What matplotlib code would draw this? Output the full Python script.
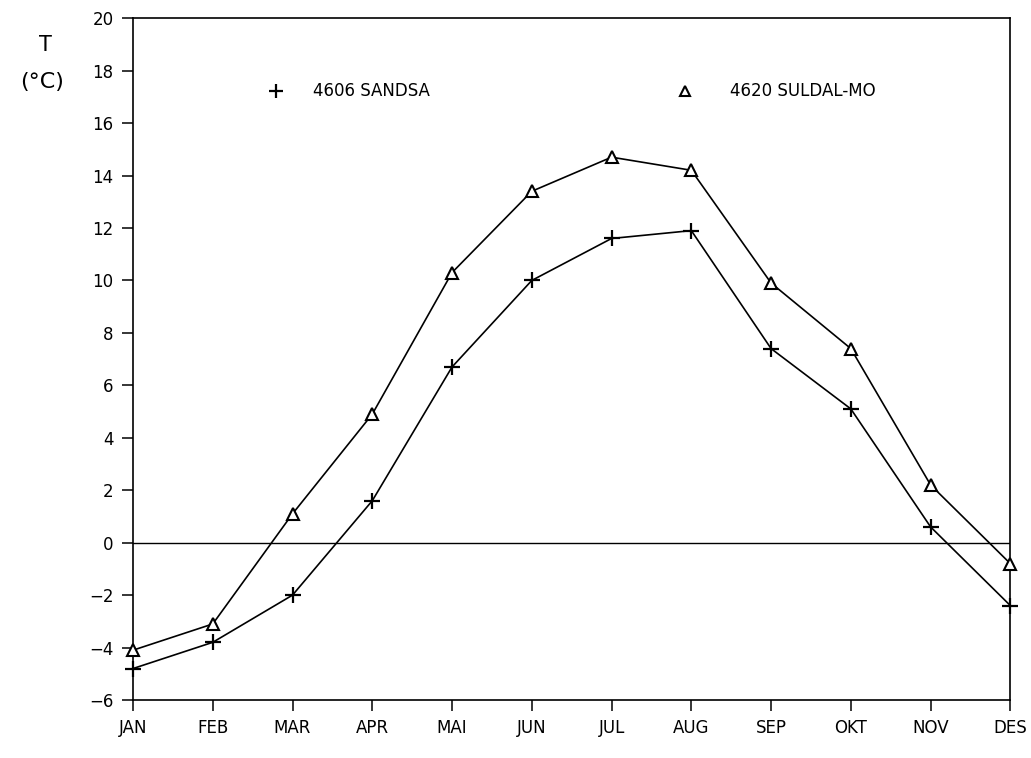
import matplotlib.pyplot as plt

months = ['JAN', 'FEB', 'MAR', 'APR', 'MAI', 'JUN', 'JUL', 'AUG', 'SEP', 'OKT', 'NOV', 'DES']
sandsa = [-4.8, -3.8, -2.0, 1.6, 6.7, 10.0, 11.6, 11.9, 7.4, 5.1, 0.6, -2.4]   # 4606 SANDSA
suldal = [-4.1, -3.1, 1.1, 4.9, 10.3, 13.4, 14.7, 14.2, 9.9, 7.4, 2.2, -0.8]   # 4620 SULDAL-MO
yticks = list(range(-6, 21, 2))

plt.rcParams['font.family'] = ['DejaVu Sans']
fig = plt.figure(figsize=(10.31, 7.58), dpi=100)
ax = fig.add_axes([0.129, 0.0765, 0.851, 0.8995])

x = list(range(len(months)))
ax.axhline(0, color='black', lw=1.0)
ax.plot(x, sandsa, color='black', lw=1.2, marker='+', ms=11, mew=1.6, clip_on=False, zorder=3)
ax.plot(x, suldal, color='black', lw=1.2, marker='^', ms=8, mew=1.5, mfc='white', clip_on=False, zorder=3)

ax.set_xlim(0, 11)
ax.set_ylim(-6, 20)
ax.set_xticks(x)
ax.set_xticklabels(months)
ax.set_yticks(yticks)
ax.tick_params(axis='both', direction='out', length=8, width=1.1, labelsize=12, color='black')
ax.tick_params(axis='y', pad=6)
ax.tick_params(axis='x', pad=6)
for s in ax.spines.values():
    s.set_linewidth(1.2)

# y axis label, two lines at the top left like the original
fig.text(45 / 1031, 1 - 45 / 758, 'T', ha='center', va='center', fontsize=15)
fig.text(42 / 1031, 1 - 82 / 758, '(°C)', ha='center', va='center', fontsize=16)

# legend drawn by hand
ax.plot([0.163], [0.893], transform=ax.transAxes, marker='+', ms=10, mew=1.6, color='black', clip_on=False)
ax.text(0.205, 0.893, '4606 SANDSA', transform=ax.transAxes, va='center', fontsize=12)
ax.plot([0.629], [0.893], transform=ax.transAxes, marker='^', ms=7, mew=1.5, mfc='white', color='black', clip_on=False)
ax.text(0.680, 0.893, '4620 SULDAL-MO', transform=ax.transAxes, va='center', fontsize=12)

fig.savefig('out.png', dpi=100)
